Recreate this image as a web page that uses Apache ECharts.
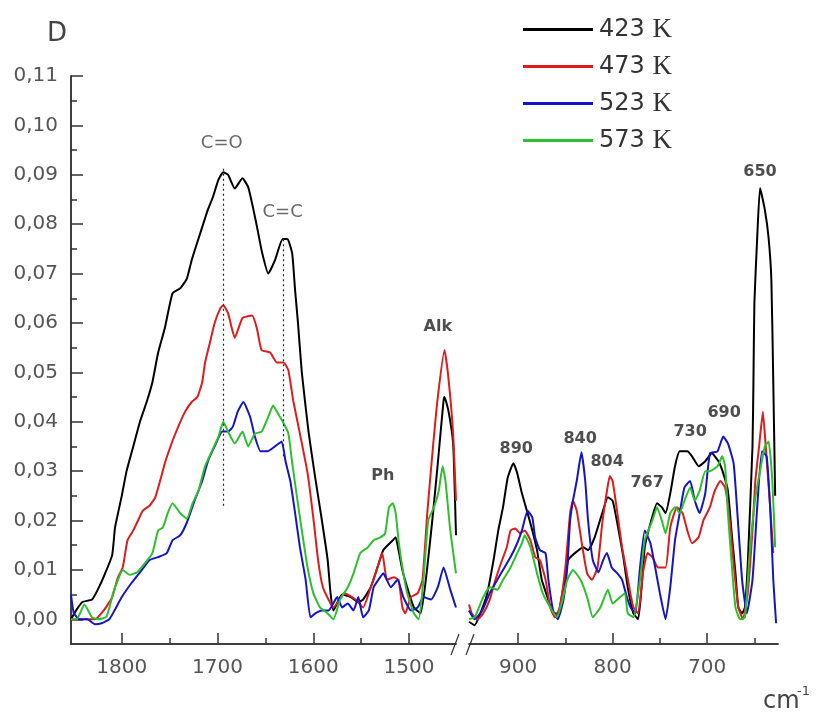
<!DOCTYPE html>
<html><head><meta charset="utf-8">
<script src="https://cdn.jsdelivr.net/npm/echarts@6/dist/echarts.min.js"></script>
<style>html,body{margin:0;padding:0;background:#fff}#c{width:822px;height:713px}</style>
</head><body><div id="c"></div>
<script>
const seriesNames = ['423 K', '473 K', '523 K', '573 K'];
const seriesColors = ['#000000', '#dd1c1c', '#1515c8', '#2cc02c'];

// left segment (1853 - 1451 cm-1)
const k423Left = [[1853,0.000],[1847,0.002],[1841,0.0035],[1831,0.004],[1825,0.006],[1818,0.009],[1810,0.013],[1807,0.0186],[1800,0.025],[1795,0.030],[1788,0.035],[1781,0.040],[1774,0.044],[1768,0.048],[1762,0.054],[1755,0.059],[1747,0.066],[1739,0.067],[1732,0.069],[1727,0.0727],[1720,0.077],[1715,0.080],[1710,0.083],[1705,0.0854],[1699,0.089],[1694,0.0905],[1689,0.090],[1682,0.0872],[1674,0.0893],[1668,0.0875],[1663,0.0834],[1658,0.0787],[1654,0.0747],[1647,0.070],[1640,0.0727],[1632,0.077],[1627,0.077],[1622,0.074],[1619,0.0666],[1616,0.060],[1612,0.050],[1605,0.038],[1598,0.0287],[1591,0.020],[1585,0.012],[1582,0.0053],[1579,0.0018],[1570,0.005],[1561,0.0045],[1553,0.0035],[1548,0.004],[1540,0.0065],[1533,0.0105],[1527,0.014],[1517,0.016],[1514,0.0166],[1511,0.014],[1507,0.010],[1502,0.0065],[1495,0.0024],[1488,0.0012],[1481,0.0105],[1475,0.0215],[1470,0.0316],[1464,0.0443],[1463,0.045],[1459,0.0423],[1454,0.0356],[1452,0.024],[1451,0.017]];
const k473Left = [[1853,0.000],[1840,0.000],[1828,0.000],[1818,0.002],[1810,0.0045],[1804,0.0085],[1799,0.0105],[1794,0.016],[1788,0.018],[1783,0.020],[1778,0.022],[1771,0.023],[1765,0.0247],[1760,0.028],[1755,0.0316],[1748,0.0356],[1741,0.039],[1734,0.042],[1727,0.044],[1721,0.045],[1716,0.048],[1713,0.052],[1708,0.056],[1703,0.060],[1697,0.063],[1694,0.0636],[1689,0.062],[1682,0.057],[1674,0.061],[1664,0.0615],[1659,0.059],[1654,0.0545],[1645,0.054],[1638,0.052],[1631,0.052],[1626,0.0504],[1621,0.0443],[1614,0.0376],[1606,0.0296],[1600,0.0206],[1595,0.012],[1590,0.0065],[1582,0.0032],[1579,0.0024],[1567,0.0053],[1556,0.004],[1548,0.0024],[1540,0.0065],[1533,0.0105],[1528,0.0134],[1523,0.008],[1516,0.0085],[1511,0.008],[1507,0.0024],[1504,0.0012],[1498,0.0045],[1491,0.0053],[1486,0.008],[1481,0.0215],[1475,0.035],[1470,0.045],[1463,0.0545],[1459,0.049],[1454,0.0376],[1451,0.024]];
const k523Left = [[1853,0.005],[1850,0.0012],[1844,0.000],[1836,0.000],[1828,-0.001],[1821,-0.0008],[1813,0.000],[1807,0.002],[1800,0.0045],[1790,0.0073],[1779,0.010],[1771,0.012],[1762,0.0126],[1753,0.0134],[1747,0.016],[1739,0.017],[1732,0.0196],[1724,0.024],[1716,0.028],[1710,0.032],[1703,0.035],[1695,0.038],[1689,0.038],[1684,0.039],[1679,0.042],[1673,0.044],[1666,0.041],[1661,0.037],[1655,0.034],[1648,0.034],[1640,0.035],[1633,0.036],[1629,0.032],[1624,0.028],[1619,0.0215],[1614,0.0146],[1608,0.008],[1603,0.0004],[1598,0.0012],[1591,0.0018],[1584,0.0018],[1575,0.0045],[1570,0.0024],[1564,0.0032],[1558,0.0018],[1553,0.0045],[1548,0.0004],[1542,0.0018],[1537,0.0065],[1532,0.008],[1527,0.0093],[1519,0.0065],[1512,0.008],[1506,0.0045],[1498,0.0018],[1491,0.0024],[1485,0.0045],[1477,0.004],[1470,0.0065],[1464,0.0105],[1457,0.006],[1451,0.0024]];
const k573Left = [[1853,0.000],[1847,0.000],[1839,0.003],[1831,0.0004],[1825,0.000],[1816,0.0005],[1809,0.0053],[1804,0.008],[1799,0.010],[1792,0.009],[1784,0.0095],[1776,0.0113],[1768,0.0134],[1762,0.018],[1757,0.0186],[1752,0.0215],[1747,0.0235],[1739,0.0215],[1732,0.0204],[1726,0.0235],[1720,0.026],[1713,0.031],[1706,0.034],[1699,0.037],[1694,0.040],[1689,0.038],[1682,0.0356],[1674,0.038],[1668,0.035],[1661,0.0376],[1654,0.038],[1647,0.041],[1642,0.0433],[1637,0.0417],[1631,0.0397],[1626,0.0376],[1622,0.0316],[1617,0.0247],[1612,0.018],[1606,0.0105],[1600,0.0053],[1593,0.0024],[1585,0.0012],[1579,0.000],[1572,0.004],[1564,0.0065],[1558,0.0093],[1551,0.0134],[1543,0.0146],[1537,0.016],[1530,0.0166],[1525,0.0174],[1521,0.0227],[1517,0.0235],[1514,0.0215],[1511,0.016],[1507,0.0105],[1502,0.0053],[1495,0.0012],[1490,0.000],[1485,0.008],[1480,0.020],[1474,0.0227],[1469,0.026],[1465,0.031],[1462,0.028],[1457,0.018],[1451,0.0093]];

// right segment (952 - 625 cm-1)
const k423Right = [[952,-0.0005],[946,-0.0012],[940,0.0012],[933,0.005],[926,0.012],[921,0.018],[916,0.0227],[911,0.0287],[905,0.0316],[901,0.0296],[896,0.0255],[890,0.0215],[885,0.018],[880,0.014],[875,0.008],[869,0.0045],[863,0.0012],[858,0.0012],[852,0.0065],[847,0.012],[840,0.0134],[831,0.0146],[826,0.014],[819,0.0166],[811,0.0215],[805,0.0247],[800,0.024],[795,0.0194],[789,0.013],[784,0.0065],[778,0.0012],[773,0.000],[769,0.0073],[766,0.0146],[760,0.0194],[753,0.0235],[748,0.0227],[744,0.0215],[739,0.0255],[734,0.031],[729,0.034],[721,0.034],[716,0.033],[709,0.031],[702,0.032],[695,0.0336],[688,0.032],[683,0.0296],[678,0.026],[674,0.0174],[670,0.0093],[667,0.0024],[663,0.0012],[660,0.0024],[657,0.0113],[652,0.035],[651,0.048],[650,0.064],[647,0.0773],[644,0.0873],[639,0.083],[635,0.0773],[632,0.0686],[630,0.048],[628,0.025]];
const k473Right = [[952,0.003],[949,0.0012],[943,0.000],[937,0.0012],[930,0.004],[924,0.008],[917,0.012],[912,0.0146],[908,0.018],[903,0.0184],[898,0.0174],[893,0.018],[887,0.016],[882,0.0126],[877,0.012],[871,0.008],[866,0.0024],[861,0.0004],[856,0.0024],[850,0.0105],[845,0.0215],[842,0.024],[838,0.022],[832,0.0146],[827,0.0093],[822,0.008],[816,0.0105],[811,0.0194],[806,0.026],[803,0.029],[800,0.028],[795,0.0215],[790,0.0146],[785,0.0093],[781,0.005],[778,0.0024],[773,0.0012],[768,0.0093],[763,0.0134],[758,0.0126],[752,0.0105],[744,0.0105],[739,0.0186],[732,0.0227],[726,0.0215],[721,0.018],[716,0.0154],[709,0.0166],[704,0.020],[697,0.0227],[692,0.026],[686,0.028],[681,0.0267],[676,0.020],[672,0.0113],[667,0.0024],[662,0.000],[657,0.0053],[652,0.018],[649,0.028],[645,0.035],[641,0.042],[638,0.035],[634,0.0247],[630,0.0134]];
const k523Right = [[952,0.0018],[946,0.000],[938,0.0018],[930,0.0053],[922,0.008],[916,0.010],[908,0.0126],[901,0.0154],[896,0.018],[890,0.022],[885,0.0206],[882,0.0166],[877,0.014],[871,0.0134],[868,0.008],[863,0.0018],[858,0.000],[852,0.004],[848,0.0105],[845,0.020],[842,0.024],[838,0.028],[833,0.0338],[829,0.028],[826,0.020],[821,0.012],[815,0.0095],[810,0.012],[806,0.0134],[801,0.0105],[795,0.0093],[790,0.008],[785,0.0045],[781,0.0024],[776,0.0012],[771,0.0105],[766,0.018],[760,0.0154],[755,0.0105],[750,0.0053],[744,0.000],[739,0.0065],[734,0.016],[729,0.0215],[724,0.0267],[718,0.028],[713,0.024],[708,0.0215],[702,0.0255],[697,0.0336],[689,0.034],[683,0.037],[678,0.0356],[672,0.0316],[668,0.0215],[663,0.008],[658,0.0012],[652,0.008],[647,0.0227],[642,0.034],[637,0.033],[633,0.0215],[630,0.008],[627,-0.0008]];
const k573Right = [[952,0.000],[946,0.0004],[937,0.0045],[930,0.0065],[922,0.006],[916,0.008],[908,0.0105],[901,0.0134],[896,0.0154],[893,0.017],[887,0.0146],[880,0.0093],[874,0.0053],[866,0.0024],[859,0.0004],[853,0.004],[848,0.008],[842,0.010],[834,0.008],[827,0.0045],[821,0.0004],[813,0.0024],[805,0.006],[800,0.0032],[792,0.0045],[787,0.0053],[784,0.0012],[778,0.0004],[771,0.008],[766,0.016],[758,0.020],[753,0.0227],[748,0.020],[744,0.0174],[739,0.0215],[734,0.0227],[729,0.0215],[724,0.024],[718,0.0267],[713,0.024],[708,0.026],[702,0.030],[697,0.030],[689,0.031],[684,0.033],[681,0.031],[678,0.0215],[674,0.0113],[670,0.0024],[665,0.000],[660,0.0004],[655,0.0134],[649,0.0247],[644,0.030],[639,0.035],[635,0.036],[631,0.028],[628,0.0146]];

// axis ticks
const yMajorTicks = [0, 0.01, 0.02, 0.03, 0.04, 0.05, 0.06, 0.07, 0.08, 0.09, 0.10, 0.11];
const yMinorTicks = [0.005, 0.015, 0.025, 0.035, 0.045, 0.055, 0.065, 0.075, 0.085, 0.095, 0.105];
const xMajorLeft = [1800, 1700, 1600, 1500];
const xMinorLeft = [1750, 1650, 1550];
const xMajorRight = [900, 800, 700];
const xMinorRight = [850, 750, 650];

// annotations [label, wavenumber, D]
const annotLeft = [['C=O', 1695.6, 0.0964], ['C=C', 1632, 0.0824], ['Ph', 1527.5, 0.029], ['Alk', 1470, 0.0593]];
const annotRight = [['890', 902, 0.0346], ['840', 834.4, 0.0366], ['804', 805.8, 0.0318], ['767', 763.5, 0.0277], ['730', 718, 0.0379], ['690', 682, 0.0417], ['650', 644, 0.0905]];
// dotted guide lines [wavenumber, D from, D to]
const peakMarks = [[1694, 0.023, 0.0915], [1631, 0.033, 0.0775]];

const leftData = [k423Left, k473Left, k523Left, k573Left];
const rightData = [k423Right, k473Right, k523Right, k573Right];

const axisColor = '#333';
const labelColor = '#555';
const yMin = -0.005, yMax = 0.11;

function xAxes(grid, min, max, major, minor) {
  const base = {
    type: 'value', gridIndex: grid, min: min, max: max, inverse: true, position: 'bottom',
    axisLine: { show: true, onZero: false, lineStyle: { color: axisColor, width: 1.5 } },
    splitLine: { show: false }
  };
  return [
    Object.assign({}, base, {
      axisTick: { show: true, inside: true, length: 11, customValues: major, lineStyle: { color: axisColor, width: 1.5 } },
      axisLabel: { show: true, customValues: major, margin: 14, fontSize: 20, color: labelColor, fontFamily: 'DejaVu Sans', formatter: v => String(v) }
    }),
    Object.assign({}, base, {
      axisTick: { show: true, inside: true, length: 6, customValues: minor, lineStyle: { color: axisColor, width: 1.5 } },
      axisLabel: { show: false }
    })
  ];
}

const series = [];
seriesNames.forEach((name, i) => {
  const common = {
    name: name, type: 'line', showSymbol: false, symbol: 'none', smooth: 0.15,
    lineStyle: { color: seriesColors[i], width: 2 }, itemStyle: { color: seriesColors[i] },
    emphasis: { disabled: true }, animation: false
  };
  series.push(Object.assign({}, common, { xAxisIndex: 0, yAxisIndex: 0, data: leftData[i] }));
  series.push(Object.assign({}, common, { xAxisIndex: 2, yAxisIndex: 2, data: rightData[i] }));
});

function annotItem(a) {
  const isBond = a[0].indexOf('C=') === 0;
  return {
    name: a[0], value: [a[1], a[2]],
    label: isBond
      ? { fontSize: 18, fontWeight: 'normal', color: '#444' }
      : { fontSize: 16, fontWeight: 'bold', color: '#222' }
  };
}
const annotBase = {
  type: 'scatter', symbolSize: 1, itemStyle: { color: 'rgba(0,0,0,0)' }, silent: true, animation: false,
  label: { show: true, position: 'inside', formatter: p => p.name, fontFamily: 'DejaVu Sans' },
  emphasis: { disabled: true }
};
series.push(Object.assign({}, annotBase, {
  xAxisIndex: 0, yAxisIndex: 0, data: annotLeft.map(annotItem),
  markLine: {
    silent: true, symbol: ['none', 'none'], label: { show: false }, animation: false,
    lineStyle: { type: [2, 3], color: '#222', width: 1.2 },
    data: peakMarks.map(m => [{ coord: [m[0], m[1]] }, { coord: [m[0], m[2]] }])
  }
}));
series.push(Object.assign({}, annotBase, { xAxisIndex: 2, yAxisIndex: 2, data: annotRight.map(annotItem) }));

const option = {
  animation: false,
  backgroundColor: '#fff',
  grid: [
    { left: 71, top: 76, width: 385, height: 568 },
    { left: 469, top: 76, width: 309, height: 568 }
  ],
  xAxis: [].concat(xAxes(0, 1451, 1853, xMajorLeft, xMinorLeft), xAxes(1, 625, 952, xMajorRight, xMinorRight)),
  yAxis: [
    {
      type: 'value', gridIndex: 0, min: yMin, max: yMax, position: 'left',
      axisLine: { show: true, onZero: false, lineStyle: { color: axisColor, width: 1.5 } },
      axisTick: { show: true, inside: true, length: 12, customValues: yMajorTicks, lineStyle: { color: axisColor, width: 1.5 } },
      axisLabel: {
        show: true, customValues: yMajorTicks, margin: 13, fontSize: 20, color: labelColor, fontFamily: 'DejaVu Sans',
        formatter: v => v.toFixed(2).replace('.', ',')
      },
      splitLine: { show: false }
    },
    {
      type: 'value', gridIndex: 0, min: yMin, max: yMax, position: 'left',
      axisLine: { show: true, onZero: false, lineStyle: { color: axisColor, width: 1.5 } },
      axisTick: { show: true, inside: true, length: 6, customValues: yMinorTicks, lineStyle: { color: axisColor, width: 1.5 } },
      axisLabel: { show: false },
      splitLine: { show: false }
    },
    { type: 'value', gridIndex: 1, min: yMin, max: yMax, show: false, splitLine: { show: false } }
  ],
  legend: {
    data: seriesNames, orient: 'vertical', left: 523, top: 16, padding: 0,
    itemWidth: 70, itemHeight: 3, itemGap: 10,
    icon: 'rect',
    selectedMode: false,
    formatter: name => { const p = name.split(' '); return '{n|' + p[0] + '} {k|' + p[1] + '}'; },
    textStyle: {
      fontSize: 24, color: '#333', fontFamily: 'DejaVu Sans', padding: [0, 0, 0, 1],
      rich: {
        n: { fontFamily: 'DejaVu Sans', fontSize: 24, color: '#333', lineHeight: 26 },
        k: { fontFamily: 'Liberation Serif', fontSize: 27, color: '#333', lineHeight: 26 }
      }
    }
  },
  graphic: [
    { type: 'text', left: 47, top: 21, style: { text: 'D', font: '26px "DejaVu Sans"', fill: '#444' } },
    { type: 'text', x: 763, y: 714, style: { text: 'cm', font: '24px "DejaVu Sans"', fill: '#444', textVerticalAlign: 'bottom' } },
    { type: 'text', x: 797, y: 692, style: { text: '-1', font: '13px "DejaVu Sans"', fill: '#444', textVerticalAlign: 'middle' } },
    { type: 'line', shape: { x1: 451, y1: 655, x2: 459, y2: 634 }, style: { stroke: '#333', lineWidth: 1.2 } },
    { type: 'line', shape: { x1: 466, y1: 655, x2: 474, y2: 634 }, style: { stroke: '#333', lineWidth: 1.2 } }
  ],
  series: series
};

const chart = echarts.init(document.getElementById('c'), null, { renderer: 'canvas' });
chart.setOption(option);
</script>
</body></html>
